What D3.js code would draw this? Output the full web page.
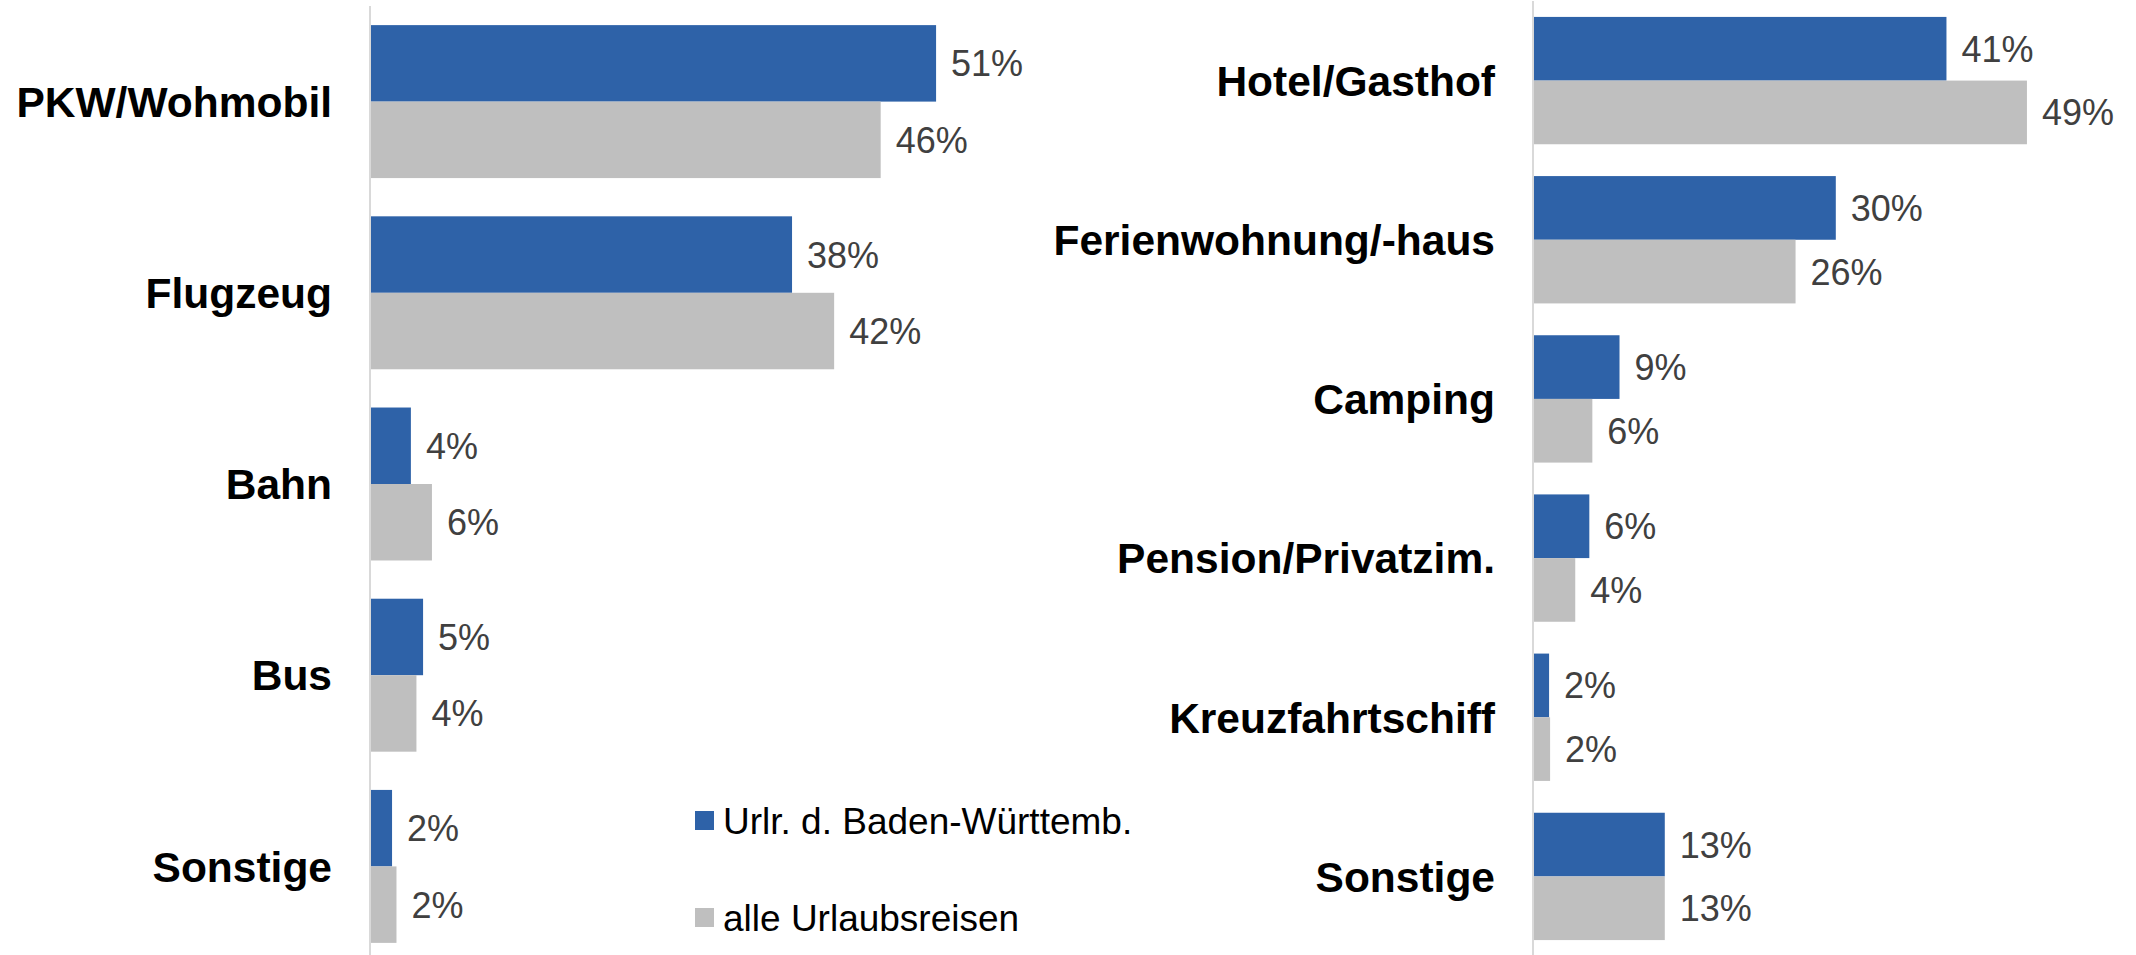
<!DOCTYPE html>
<meta charset="utf-8">
<body>
<script src="https://cdn.jsdelivr.net/npm/d3@7"></script>
<style>
    html, body {
        margin: 0;
        background: #fff;
    }
    text {
        font-family: "Liberation Sans", Arial, sans-serif;
    }
</style>
<script>
var width = 2136,
    height = 955;

// Verkehrsmittel (links), Werte in %
var transportCats = ["PKW/Wohmobil", "Flugzeug", "Bahn", "Bus", "Sonstige"],
    transportBW = [51, 38, 3.6, 4.7, 1.9],
    transportAll = [46, 41.8, 5.5, 4.1, 2.3];

// Unterkunft (rechts), Werte in %
var lodgingCats = ["Hotel/Gasthof", "Ferienwohnung/-haus", "Camping", "Pension/Privatzim.", "Kreuzfahrtschiff", "Sonstige"],
    lodgingBW = [41, 30, 8.5, 5.5, 1.5, 13],
    lodgingAll = [49, 26, 5.8, 4.1, 1.6, 13];

var seriesNames = ["Urlr. d. Baden-Württemb.", "alle Urlaubsreisen"],
    seriesColors = ["#2e62a8", "#bfbfbf"];

var pct = d3.format(".0f");

var svg = d3.select("body").append("svg")
    .attr("width", width)
    .attr("height", height);

function panel(cats, bw, all, axisX, pxPerPct, yRange) {
    var rows = cats.map(function(c, i) { return {cat: c, vals: [bw[i], all[i]]}; });

    var x = d3.scaleLinear().domain([0, 100]).range([axisX, axisX + pxPerPct * 100]);
    var y = d3.scaleBand().domain(cats).range(yRange)
        .paddingInner(0.2).paddingOuter(0.1);
    var ySub = d3.scaleBand().domain([0, 1]).range([0, y.bandwidth()]);

    var g = svg.append("g");

    var row = g.selectAll("g.row")
        .data(rows)
        .enter().append("g")
        .attr("class", "row")
        .attr("transform", function(d) { return "translate(0," + y(d.cat) + ")"; });

    row.selectAll("rect")
        .data(function(d) { return d.vals; })
        .enter().append("rect")
        .attr("x", x(0))
        .attr("y", function(d, i) { return ySub(i); })
        .attr("width", function(d) { return x(d) - x(0); })
        .attr("height", ySub.bandwidth())
        .attr("fill", function(d, i) { return seriesColors[i]; });

    row.selectAll("text.val")
        .data(function(d) { return d.vals; })
        .enter().append("text")
        .attr("class", "val")
        .attr("x", function(d) { return x(d) + 15; })
        .attr("y", function(d, i) { return ySub(i) + ySub.bandwidth() / 2; })
        .attr("dy", "0.36em")
        .attr("font-size", 36)
        .attr("fill", "#404040")
        .text(function(d) { return pct(d) + "%"; });

    row.append("text")
        .attr("x", x(0) - 39)
        .attr("y", y.bandwidth() / 2)
        .attr("dy", "0.36em")
        .attr("text-anchor", "end")
        .attr("font-size", 42.5)
        .attr("font-weight", "bold")
        .attr("fill", "#000")
        .text(function(d) { return d.cat; });

    // Achsenlinie
    g.append("line")
        .attr("x1", x(0) - 1).attr("x2", x(0) - 1)
        .attr("y1", yRange[0]).attr("y2", height)
        .attr("stroke", "#d9d9d9")
        .attr("stroke-width", 2);
}

panel(transportCats, transportBW, transportAll, 371, 11.08, [6, 962]);
panel(lodgingCats, lodgingBW, lodgingAll, 1534, 10.06, [1, 956]);

// Legende
var legend = svg.append("g")
    .selectAll("g")
    .data(seriesNames)
    .enter().append("g")
    .attr("transform", function(d, i) { return "translate(695," + (811 + i * 97) + ")"; });

legend.append("rect")
    .attr("width", 19)
    .attr("height", 19)
    .attr("fill", function(d, i) { return seriesColors[i]; });

legend.append("text")
    .attr("x", 28)
    .attr("y", 9.5)
    .attr("dy", "0.36em")
    .attr("font-size", 37)
    .attr("fill", "#000")
    .text(function(d) { return d; });
</script>
